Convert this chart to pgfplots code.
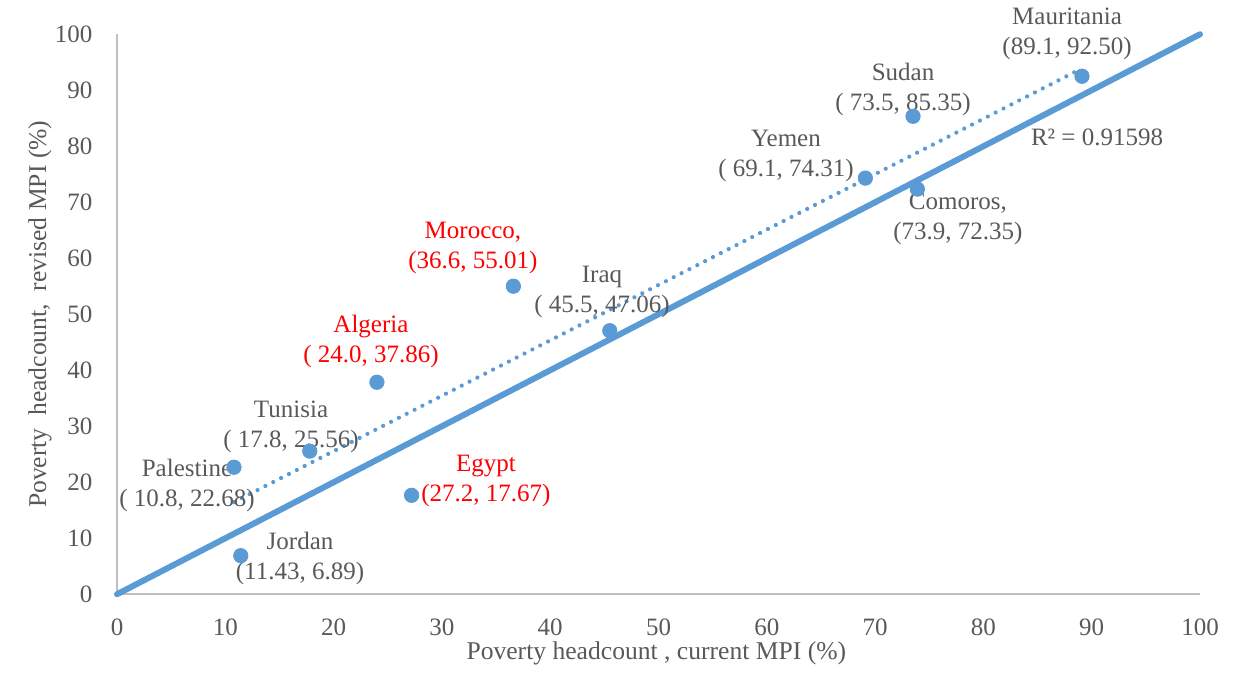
\documentclass[border=0pt]{standalone}
\usepackage{pgfplots}
\pgfplotsset{compat=1.18}
\usepackage{fontspec}
\setmainfont{Liberation Serif}
\definecolor{txtgray}{HTML}{595959}
\definecolor{axgray}{HTML}{BFBFBF}
\definecolor{ptblue}{HTML}{5B9BD5}
\begin{document}
\fontsize{12.5}{15}\selectfont
\begin{tikzpicture}
\begin{axis}[
  scale only axis,
  width=541.5pt, height=280pt,
  xmin=0, xmax=100, ymin=0, ymax=100,
  xtick={0,10,...,100}, ytick={0,10,...,100},
  axis x line*=bottom, axis y line*=left,
  axis line style={axgray, line width=1.2pt, -},
  major tick length=0pt,
  tick label style={text=txtgray, font=\fontsize{12.5}{15}\selectfont},
  /pgf/number format/assume math mode=true,
  xticklabel style={yshift=-8pt},
  yticklabel style={xshift=-8pt},
  xlabel={Poverty headcount , current MPI (\%)},
  ylabel={Poverty\ \ headcount,\ \ revised MPI (\%)},
  label style={text=txtgray, font=\fontsize{12.8}{15}\selectfont},
  xlabel style={at={(axis description cs:0.498,-0.1054)}, anchor=center},
  ylabel style={at={(axis description cs:-0.0711,0.5)}, anchor=center},
  clip=false,
]
% parity line y = x
\addplot[ptblue, line width=3pt, line cap=round] coordinates {(0,0) (100,100)};
% linear trend of the country points (slope 0.9892, intercept 5.77)
\addplot[ptblue, line width=2.1pt, line cap=round, dash pattern=on 0.01pt off 4.4pt]
  coordinates {(10.8,16.45) (89.1,93.91)};
% countries: current MPI vs revised MPI headcount
\addplot[only marks, mark=*, mark size=3.6pt, mark options={fill=ptblue, draw=ptblue}]
  table[row sep=\\] {
  x y \\
  11.43 6.89 \\
  10.8 22.68 \\
  17.8 25.56 \\
  24.0 37.86 \\
  36.6 55.01 \\
  27.2 17.67 \\
  45.5 47.06 \\
  69.1 74.31 \\
  73.5 85.35 \\
  73.9 72.35 \\
  89.1 92.50 \\
  };
\begin{scope}[every node/.style={align=center, text=txtgray, font=\fontsize{12.5}{15}\selectfont}]
\node at (axis cs:87.72,100.0) {Mauritania\\(89.1, 92.50)};
\node at (axis cs:72.58,90.18) {Sudan\\( 73.5, 85.35)};
\node at (axis cs:61.77,78.21) {Yemen\\( 69.1, 74.31)};
\node at (axis cs:77.65,66.96) {Comoros,\\(73.9, 72.35)};
\node[text=red] at (axis cs:32.87,61.79) {Morocco,\\(36.6, 55.01)};
\node at (axis cs:44.78,53.93) {Iraq\\( 45.5, 47.06)};
\node[text=red] at (axis cs:23.45,45.18) {Algeria\\( 24.0, 37.86)};
\node at (axis cs:16.07,29.82) {Tunisia\\( 17.8, 25.56)};
\node at (axis cs:6.46,19.46) {Palestine\\( 10.8, 22.68)};
\node[text=red] at (axis cs:34.07,20.18) {Egypt\\(27.2, 17.67)};
\node at (axis cs:16.90,6.43) {Jordan\\(11.43, 6.89)};
\node at (axis cs:90.49,81.61) {R² = 0.91598};
\end{scope}
\end{axis}
\useasboundingbox (-58.5pt,-37pt) rectangle (562pt,296.5pt);
\end{tikzpicture}
\end{document}
